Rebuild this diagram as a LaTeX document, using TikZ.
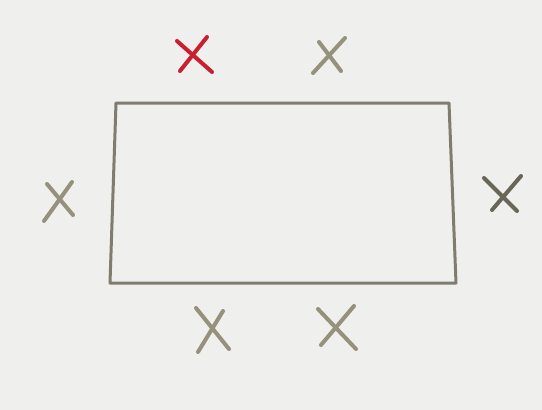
\documentclass[tikz,border=0pt]{standalone}
\usepackage{tikz}
\usetikzlibrary{positioning}
\definecolor{paper}{RGB}{239,239,237}
\definecolor{pencil}{RGB}{128,124,112}
\definecolor{lead}{RGB}{150,145,125}
\definecolor{redpen}{RGB}{200,32,46}
\tikzstyle{outline} = [pencil, line width=3pt, line join=round]
\tikzstyle{crossline} = [lead, line width=4pt, line cap=round]

\begin{document}
\begin{tikzpicture}[x=1pt, y=-1pt]

    % Paper
    \fill[paper] (0,0) rectangle (542,410);
    \useasboundingbox (0,0) rectangle (542,410);

    % Corners of the box
    \coordinate (TopLeft) at (116,103);
    \coordinate (TopRight) at (449,103);
    \coordinate (BottomRight) at (456,283);
    \coordinate (BottomLeft) at (110,283);

    % Box
    \draw[outline] (TopLeft) -- (TopRight) -- (BottomRight) -- (BottomLeft) -- cycle;

    % Red cross (top left)
    \draw[crossline, redpen] (177,41) -- (212,72);
    \draw[crossline, redpen] (207,37) -- (180,71);

    % Top cross
    \draw[crossline] (319,42) -- (341,71);
    \draw[crossline] (345,38) -- (313,73);

    % Left cross
    \draw[crossline] (72,182) -- (44,221);
    \draw[crossline] (47,184) -- (73,215);

    % Right cross
    \draw[crossline, lead!70!black] (521,176) -- (492,210);
    \draw[crossline, lead!70!black] (484,178) -- (517,211);

    % Bottom crosses
    \draw[crossline] (196,308) -- (229,349);
    \draw[crossline] (223,311) -- (198,352);
    \draw[crossline] (318,309) -- (356,349);
    \draw[crossline] (354,306) -- (321,345);

\end{tikzpicture}
\end{document}
